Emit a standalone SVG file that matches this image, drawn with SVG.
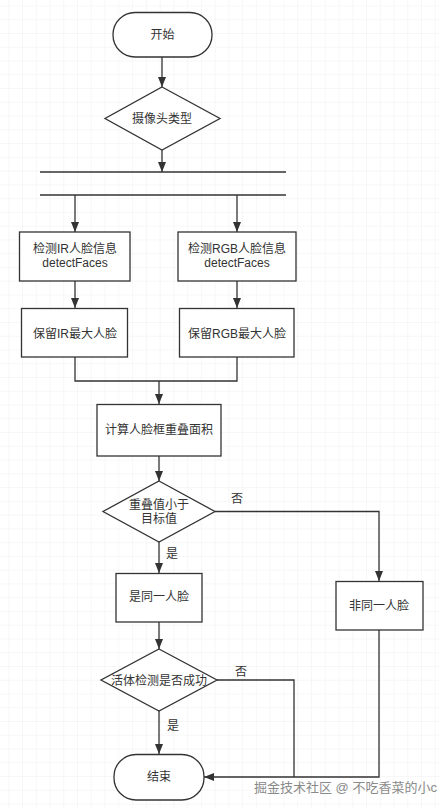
<svg xmlns="http://www.w3.org/2000/svg" width="439" height="808" viewBox="0 0 439 808">
<defs>
<pattern id="grid" x="8.24" y="5.5" width="13.76" height="13.76" patternUnits="userSpaceOnUse">
<path d="M0,0 H13.76 M0,0 V13.76" fill="none" stroke="#efefef" stroke-width="1"/>
</pattern>
<marker id="arr" markerUnits="userSpaceOnUse" markerWidth="11" markerHeight="8" refX="10" refY="4" orient="auto">
<path d="M0,0 L10,4 L0,8 z" fill="#333"/>
</marker>
<style>
.n{fill:#fff;stroke:#333;stroke-width:1.3}
.t{font-family:"Liberation Sans","Noto Sans CJK SC",sans-serif;font-size:12px;fill:#333;text-anchor:middle}
.c{fill:none;stroke:#333;stroke-width:1.3}
.a{marker-end:url(#arr)}
.w{font-family:"Liberation Sans","Noto Sans CJK SC",sans-serif;font-size:13px;fill:#8a8a8a}
</style>
</defs>
<rect width="439" height="808" fill="#fff"/>
<rect width="439" height="808" fill="url(#grid)"/>
<g id="connectors">
<path class="c a" d="M162,57 V87"/>
<path class="c a" d="M162,150 V172"/>
<path class="c" d="M40,172 H286"/>
<path class="c" d="M40,195 H286"/>
<path class="c a" d="M75,195 V232"/>
<path class="c a" d="M237,195 V232"/>
<path class="c a" d="M75,281 V308"/>
<path class="c a" d="M237,281 V308"/>
<path class="c" d="M75,357 V381 H237 V357"/>
<path class="c a" d="M159,381 V404"/>
<path class="c a" d="M159,456 V481"/>
<path class="c a" d="M215,511.5 H379 V581"/>
<path class="c a" d="M159,542 V573"/>
<path class="c a" d="M159,622 V649"/>
<path class="c" d="M217,680 H294 V777"/>
<path class="c a" d="M379,630 V777 H204"/>
<path class="c a" d="M159,711 V754"/>
<text class="t" x="237" y="503">否</text>
<text class="t" x="172" y="558">是</text>
<text class="t" x="241" y="676">否</text>
<text class="t" x="173" y="730">是</text>
</g>
<g id="start">
<rect class="n" x="113" y="12.5" width="99" height="44.5" rx="22" ry="22"/>
<text class="t" x="162.5" y="39">开始</text>
</g>
<g id="camera-type">
<polygon class="n" points="162,87 220,118.5 162,150 105,118.5"/>
<text class="t" x="162" y="123">摄像头类型</text>
</g>
<g id="detect-ir">
<rect class="n" x="19.5" y="232" width="110.5" height="49"/>
<text class="t" x="75" y="253">检测IR人脸信息</text>
<text class="t" x="75" y="267">detectFaces</text>
</g>
<g id="detect-rgb">
<rect class="n" x="178" y="232" width="118" height="49"/>
<text class="t" x="237" y="253">检测RGB人脸信息</text>
<text class="t" x="237" y="267">detectFaces</text>
</g>
<g id="keep-ir">
<rect class="n" x="21.5" y="308.5" width="106" height="48.5"/>
<text class="t" x="75" y="338">保留IR最大人脸</text>
</g>
<g id="keep-rgb">
<rect class="n" x="179.5" y="308.5" width="114.5" height="48.5"/>
<text class="t" x="237" y="338">保留RGB最大人脸</text>
</g>
<g id="overlap">
<rect class="n" x="97" y="404.5" width="124" height="51.5"/>
<text class="t" x="159" y="434">计算人脸框重叠面积</text>
</g>
<g id="threshold">
<polygon class="n" points="159,481 215,511.5 159,542 103,511.5"/>
<text class="t" x="159" y="509">重叠值小于</text>
<text class="t" x="159" y="523">目标值</text>
</g>
<g id="same-face">
<rect class="n" x="116" y="573.5" width="86" height="48.5"/>
<text class="t" x="159" y="601">是同一人脸</text>
</g>
<g id="diff-face">
<rect class="n" x="336" y="581.5" width="87" height="48.5"/>
<text class="t" x="379" y="610">非同一人脸</text>
</g>
<g id="liveness">
<polygon class="n" points="159,649 217,680 159,711 101,680"/>
<text class="t" x="159" y="685">活体检测是否成功</text>
</g>
<g id="end">
<rect class="n" x="114" y="754.5" width="90" height="45.5" rx="22" ry="22"/>
<text class="t" x="159" y="781">结束</text>
</g>
<text class="w" x="254" y="792">掘金技术社区 @ 不吃香菜的小c</text>
</svg>
